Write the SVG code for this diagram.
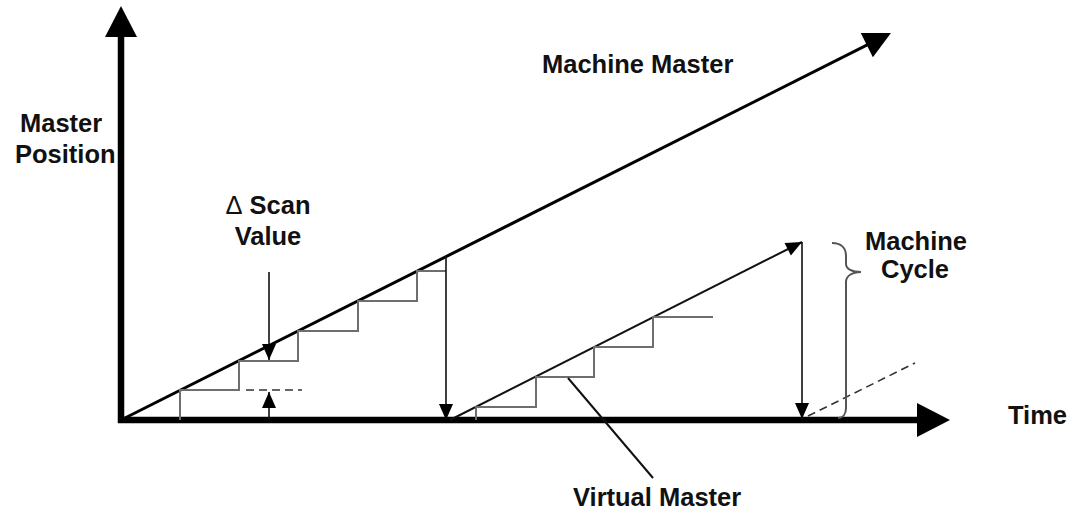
<svg xmlns="http://www.w3.org/2000/svg" width="1074" height="513" viewBox="0 0 1074 513">
<style>
  text { font-family: "Liberation Sans", Arial, sans-serif; font-weight: bold; font-size: 25.5px; fill: #111; }
  .axis { stroke: #000; stroke-width: 6.5; fill: none; }
  .master { stroke: #000; stroke-width: 3; fill: none; }
  .virtual { stroke: #111; stroke-width: 2; fill: none; }
  .step { stroke: #6e6e6e; stroke-width: 2; fill: none; }
  .arrow { stroke: #111; stroke-width: 1.6; fill: none; }
  .dash { stroke: #333; stroke-width: 1.6; fill: none; stroke-dasharray: 8 5; }
  .brace { stroke: #555; stroke-width: 2; fill: none; }
</style>
<defs>
  <marker id="ahY" markerUnits="userSpaceOnUse" markerWidth="31" markerHeight="32" refX="23" refY="16" orient="auto" overflow="visible"><path d="M0,0 L31,16 L0,32 z" fill="#000"/></marker>
  <marker id="ahX" markerUnits="userSpaceOnUse" markerWidth="33" markerHeight="34" refX="25" refY="17" orient="auto" overflow="visible"><path d="M0,0 L33,17 L0,34 z" fill="#000"/></marker>
  <marker id="ahM" markerUnits="userSpaceOnUse" markerWidth="27" markerHeight="27" refX="21" refY="13.5" orient="auto" overflow="visible"><path d="M0,0 L27,13.5 L0,27 z" fill="#000"/></marker>
  <marker id="ahS" markerUnits="userSpaceOnUse" markerWidth="16" markerHeight="14" refX="16" refY="7" orient="auto" overflow="visible"><path d="M0,0 L16,7 L0,14 z" fill="#000"/></marker>
</defs>

<g id="connectors">
  <!-- axes -->
  <line class="axis" x1="121" y1="423" x2="121" y2="14" marker-end="url(#ahY)"/>
  <line class="axis" x1="118" y1="420" x2="942" y2="420" marker-end="url(#ahX)"/>
  <!-- machine master ramp -->
  <line class="master" x1="121" y1="420" x2="885.6" y2="35.7" marker-end="url(#ahM)"/>
  <!-- staircase under machine master -->
  <path class="step" d="M180,420 V390 H239 V361 H298 V331 H358 V301 H417 V271 H446"/>
  <!-- reset arrow -->
  <line class="arrow" x1="446" y1="256" x2="446" y2="420" marker-end="url(#ahS)"/>
  <!-- delta scan markers -->
  <line class="dash" x1="246" y1="390" x2="302" y2="390"/>
  <line class="arrow" x1="269" y1="272" x2="269" y2="360" marker-end="url(#ahS)"/>
  <line class="arrow" x1="269" y1="420" x2="269" y2="392" marker-end="url(#ahS)"/>
  <!-- virtual master ramp -->
  <line class="virtual" x1="450" y1="420" x2="802" y2="242" marker-end="url(#ahS)"/>
  <path class="step" d="M476,420 V407 H536 V377 H594 V347 H653 V317 H713"/>
  <!-- second reset arrow -->
  <line class="arrow" x1="802" y1="242" x2="802" y2="419" marker-end="url(#ahS)"/>
  <!-- next cycle dashed -->
  <line class="dash" x1="808" y1="416" x2="915" y2="363"/>
  <!-- machine cycle brace -->
  <path class="brace" d="M832,243 C841,243 846,248 846,256 L846,264 C846,269 852,272 861,272 C852,272 846,276 846,282 L846,408 C846,414 843,418 838,418"/>
  <!-- virtual master pointer -->
  <line class="virtual" x1="568" y1="378" x2="653" y2="478"/>
</g>

<g id="label-machine-master"><text x="542" y="73">Machine Master</text></g>
<g id="label-master-position">
  <text x="20" y="132">Master</text>
  <text x="15" y="163">Position</text>
</g>
<g id="label-scan-value">
  <text x="268" y="214" text-anchor="middle"><tspan font-weight="normal">Δ</tspan> Scan</text>
  <text x="268" y="245" text-anchor="middle">Value</text>
</g>
<g id="label-machine-cycle">
  <text x="916" y="250" text-anchor="middle">Machine</text>
  <text x="915" y="278" text-anchor="middle">Cycle</text>
</g>
<g id="label-time"><text x="1008" y="424">Time</text></g>
<g id="label-virtual-master"><text x="573" y="506">Virtual Master</text></g>
</svg>
